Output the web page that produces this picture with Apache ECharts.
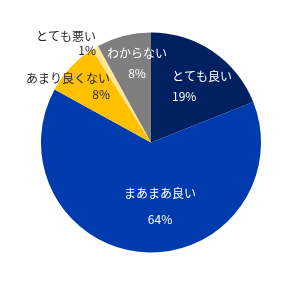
<!DOCTYPE html>
<html><head><meta charset="utf-8">
<script src="https://cdn.jsdelivr.net/npm/echarts@6/dist/echarts.min.js"></script>
<style>html,body{margin:0;padding:0;background:#fff}#c{width:302px;height:285px}</style>
</head><body><div id="c"></div>
<script>
const categories = ['とても良い', 'まあまあ良い', 'あまり良くない', 'とても悪い', 'わからない'];
const values = [19, 64, 8, 1, 8];
const colors = ['#002060', '#003BAD', '#FFC000', '#FFE699', '#7F7F7F'];
const textColors = ['#ffffff', '#ffffff', '#262626', '#262626', '#ffffff'];
// label anchor placement (x, y, align, line height)
const labelPos = [
  [172, 86, 'left', 20],
  [160, 206, 'center', 26],
  [110, 86, 'right', 16],
  [96, 43, 'right', 14],
  [137, 63, 'center', 20]
];
const chart = echarts.init(document.getElementById('c'), null, {renderer: 'canvas'});
chart.setOption({
  animation: false,
  series: [{
    type: 'pie',
    center: [151, 142.5],
    radius: [0, 110],
    startAngle: 90,
    clockwise: true,
    data: categories.map((n, i) => ({
      name: n, value: values[i],
      itemStyle: {color: colors[i]},
      label: {color: textColors[i], lineHeight: labelPos[i][3], align: labelPos[i][2]}
    })),
    itemStyle: {borderColor: '#ffffff', borderWidth: 0},
    label: {
      show: true, position: 'inside',
      fontFamily: 'Noto Sans CJK JP', fontSize: 12,
      formatter: p => p.name + '\n' + p.value + '%'
    },
    labelLine: {show: false},
    labelLayout: p => ({
      x: labelPos[p.dataIndex][0],
      y: labelPos[p.dataIndex][1],
      align: labelPos[p.dataIndex][2],
      verticalAlign: 'middle'
    })
  }]
});
</script></body></html>
